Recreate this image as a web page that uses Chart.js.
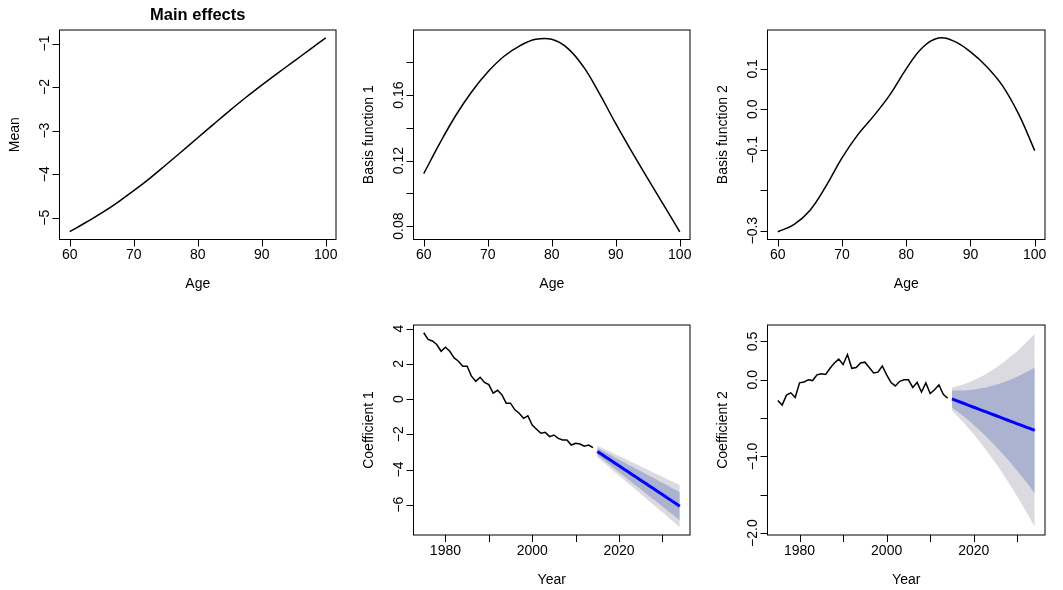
<!DOCTYPE html>
<html>
<head>
<meta charset="utf-8">
<script src="https://cdn.jsdelivr.net/npm/chart.js@4.4.1/dist/chart.umd.min.js"></script>
<style>
  html, body { margin: 0; padding: 0; background: #fff; }
  #wrap { position: relative; width: 1063px; height: 590px; }
  canvas { position: absolute; left: 0; top: 0; }
</style>
</head>
<body>
<div id="wrap">
  <canvas id="c1" width="1063" height="590"></canvas>
  <canvas id="c2" width="1063" height="590"></canvas>
  <canvas id="c3" width="1063" height="590"></canvas>
  <canvas id="c4" width="1063" height="590"></canvas>
  <canvas id="c5" width="1063" height="590"></canvas>
</div>
<script>
// ages for the main effect and basis functions
const ages = [60, 62.5, 65, 67.5, 70, 72.5, 75, 77.5, 80, 82.5, 85, 87.5, 90, 92.5, 95, 97.5, 100];
const meanEffect = [-5.32, -5.11, -4.89, -4.645, -4.38, -4.095, -3.79, -3.48, -3.165, -2.85, -2.54, -2.24, -1.955, -1.68, -1.41, -1.14, -0.87];
const basis1 = [0.112, 0.1305, 0.1475, 0.162, 0.174, 0.1835, 0.190, 0.194, 0.194, 0.1885, 0.177, 0.1605, 0.1425, 0.1255, 0.109, 0.0928, 0.0765];
const basis2 = [-0.3025, -0.285, -0.250, -0.190, -0.120, -0.062, -0.015, 0.037, 0.100, 0.152, 0.176, 0.168, 0.142, 0.106, 0.058, -0.012, -0.102];

// fitted coefficients
const years = [1975, 1976, 1977, 1978, 1979, 1980, 1981, 1982, 1983, 1984, 1985, 1986, 1987, 1988, 1989,
  1990, 1991, 1992, 1993, 1994, 1995, 1996, 1997, 1998, 1999, 2000, 2001, 2002, 2003, 2004,
  2005, 2006, 2007, 2008, 2009, 2010, 2011, 2012, 2013, 2014];
const coef1 = [3.77, 3.39, 3.30, 3.10, 2.72, 2.95, 2.72, 2.34, 2.15, 1.87, 1.87, 1.30, 1.01, 1.24, 0.95,
  0.82, 0.34, 0.50, 0.25, -0.23, -0.23, -0.61, -0.80, -1.09, -0.95, -1.47, -1.71, -1.94, -1.89, -2.13,
  -2.04, -2.23, -2.32, -2.32, -2.61, -2.51, -2.55, -2.67, -2.61, -2.76];
const coef2 = [-0.27, -0.33, -0.20, -0.17, -0.23, -0.04, -0.03, 0.00, -0.01, 0.065, 0.08, 0.07, 0.15, 0.22, 0.27,
  0.20, 0.33, 0.15, 0.16, 0.22, 0.23, 0.16, 0.09, 0.10, 0.18, 0.065, -0.035, -0.08, -0.02, 0.00,
  0.00, -0.10, -0.035, -0.16, -0.04, -0.18, -0.13, -0.065, -0.19, -0.24];

// forecasts with 80% and 95% intervals
const fcYears = [2015, 2016, 2017, 2018, 2019, 2020, 2021, 2022, 2023, 2024,
  2025, 2026, 2027, 2028, 2029, 2030, 2031, 2032, 2033, 2034];
const coef1Fc = [-2.970, -3.134, -3.297, -3.461, -3.625, -3.788, -3.952, -4.116, -4.279, -4.443,
  -4.607, -4.771, -4.934, -5.098, -5.262, -5.425, -5.589, -5.753, -5.916, -6.080];
const coef1Lo80 = [-3.170, -3.366, -3.560, -3.756, -3.951, -4.146, -4.341, -4.537, -4.732, -4.927,
  -5.123, -5.318, -5.513, -5.709, -5.904, -6.099, -6.294, -6.490, -6.684, -6.880];
const coef1Hi80 = [-2.770, -2.902, -3.034, -3.166, -3.299, -3.430, -3.563, -3.695, -3.826, -3.959,
  -4.091, -4.224, -4.355, -4.487, -4.620, -4.751, -4.884, -5.016, -5.148, -5.280];
const coef1Lo95 = [-3.300, -3.509, -3.718, -3.927, -4.136, -4.344, -4.554, -4.763, -4.971, -5.180,
  -5.390, -5.599, -5.807, -6.016, -6.226, -6.434, -6.643, -6.852, -7.061, -7.270];
const coef1Hi95 = [-2.640, -2.759, -2.876, -2.995, -3.114, -3.232, -3.350, -3.469, -3.587, -3.706,
  -3.824, -3.943, -4.061, -4.180, -4.298, -4.416, -4.535, -4.654, -4.771, -4.890];
const coef2Fc = [-0.250, -0.272, -0.293, -0.315, -0.336, -0.358, -0.379, -0.401, -0.423, -0.444,
  -0.466, -0.487, -0.509, -0.531, -0.552, -0.574, -0.595, -0.617, -0.638, -0.660];
const coef2Lo80 = [-0.360, -0.403, -0.446, -0.492, -0.539, -0.589, -0.641, -0.695, -0.750, -0.806,
  -0.866, -0.926, -0.989, -1.054, -1.120, -1.189, -1.259, -1.331, -1.405, -1.482];
const coef2Hi80 = [-0.140, -0.141, -0.140, -0.138, -0.133, -0.127, -0.117, -0.107, -0.096, -0.082,
  -0.066, -0.048, -0.029, -0.008, 0.016, 0.041, 0.069, 0.097, 0.129, 0.162];
const coef2Lo95 = [-0.400, -0.458, -0.517, -0.579, -0.644, -0.711, -0.781, -0.853, -0.929, -1.006,
  -1.086, -1.168, -1.254, -1.342, -1.431, -1.524, -1.619, -1.717, -1.817, -1.920];
const coef2Hi95 = [-0.100, -0.086, -0.069, -0.051, -0.028, -0.005, 0.023, 0.051, 0.083, 0.118,
  0.154, 0.194, 0.236, 0.280, 0.327, 0.376, 0.429, 0.483, 0.541, 0.600];

// axis ticks (R draws some ticks without a label)
const ageTicks = [60, 70, 80, 90, 100];
const yearTicks = [1980, 1990, 2000, 2010, 2020, 2030];
const yearLabels = [1980, 2000, 2020];
const meanTicks = [-5, -4, -3, -2, -1];
const basis1Ticks = [0.08, 0.10, 0.12, 0.14, 0.16, 0.18];
const basis1Labels = [0.08, 0.12, 0.16];
const basis2Ticks = [-0.3, -0.2, -0.1, 0.0, 0.1];
const basis2Labels = [-0.3, -0.1, 0.0, 0.1];
const coef1Ticks = [-6, -4, -2, 0, 2, 4];
const coef2Ticks = [-2.0, -1.5, -1.0, -0.5, 0.0, 0.5];
const coef2Labels = [-2.0, -1.0, 0.0, 0.5];

const FONT = '"Liberation Sans", Arial, Helvetica, sans-serif';
const GREY = '#dadae0';
const SLATE = '#abb3d1';

const pts = (xs, ys) => xs.map((x, i) => ({ x: x, y: ys[i] }));
const fmt = (v, d) => v.toFixed(d).replace('-', '\u2212');

// draws the R style frame, ticks and titles around the plot region
function rAxes(cfg) {
  return {
    id: 'rAxes',
    afterDraw(chart) {
      const ctx = chart.ctx;
      const a = chart.chartArea;
      const xs = chart.scales.x, ys = chart.scales.y;
      ctx.save();
      ctx.strokeStyle = '#000';
      ctx.fillStyle = '#000';
      ctx.lineWidth = 1;
      ctx.strokeRect(a.left, a.top, a.right - a.left, a.bottom - a.top);

      ctx.beginPath();
      cfg.xTicks.forEach(v => {
        const px = Math.round(xs.getPixelForValue(v)) + 0.5;
        ctx.moveTo(px, a.bottom);
        ctx.lineTo(px, a.bottom + 7);
      });
      cfg.yTicks.forEach(v => {
        const py = Math.round(ys.getPixelForValue(v)) + 0.5;
        ctx.moveTo(a.left, py);
        ctx.lineTo(a.left - 7, py);
      });
      ctx.stroke();

      ctx.font = '14px ' + FONT;
      ctx.textAlign = 'center';
      ctx.textBaseline = 'middle';
      cfg.xLabels.forEach(v => {
        ctx.fillText(fmt(v, cfg.xDec), xs.getPixelForValue(v), a.bottom + 16);
      });
      cfg.yLabels.forEach(v => {
        ctx.save();
        ctx.translate(a.left - 14, ys.getPixelForValue(v));
        ctx.rotate(-Math.PI / 2);
        ctx.fillText(fmt(v, cfg.yDec), 0, 0);
        ctx.restore();
      });

      ctx.fillText(cfg.xTitle, (a.left + a.right) / 2, a.bottom + 45);
      ctx.save();
      ctx.translate(a.left - 44, (a.top + a.bottom) / 2);
      ctx.rotate(-Math.PI / 2);
      ctx.fillText(cfg.yTitle, 0, 0);
      ctx.restore();

      if (cfg.main) {
        ctx.font = 'bold 16.5px ' + FONT;
        ctx.fillText(cfg.main, (a.left + a.right) / 2, 15);
      }
      ctx.restore();
    }
  };
}

function makePanel(id, box, xRange, yRange, datasets, axes) {
  new Chart(document.getElementById(id), {
    type: 'line',
    data: { datasets: datasets },
    options: {
      responsive: false,
      animation: false,
      layout: { padding: { left: box.l, top: box.t, right: 1063 - box.r, bottom: 590 - box.b } },
      scales: {
        x: { type: 'linear', display: false, min: xRange[0], max: xRange[1] },
        y: { type: 'linear', display: false, min: yRange[0], max: yRange[1] }
      },
      plugins: { legend: { display: false }, tooltip: { enabled: false } },
      elements: { point: { radius: 0 } }
    },
    plugins: [rAxes(axes)]
  });
}

function curve(xs, ys, smooth) {
  return {
    data: pts(xs, ys), borderColor: '#000', borderWidth: 1.5, fill: false, order: 0,
    tension: smooth ? 0.4 : 0
  };
}

function band(lo, hi, color, order) {
  return [
    { data: pts(fcYears, lo), borderWidth: 0, borderColor: 'rgba(0,0,0,0)', fill: false, order: order, tension: 0.3 },
    { data: pts(fcYears, hi), borderWidth: 0, borderColor: 'rgba(0,0,0,0)', backgroundColor: color, fill: '-1', order: order, tension: 0.3 }
  ];
}

function forecastSets(hist, fc, lo80, hi80, lo95, hi95) {
  return [
    curve(years, hist, false),
    { data: pts(fcYears, fc), borderColor: '#0000ff', borderWidth: 3, fill: false, order: 0 },
    ...band(lo95, hi95, GREY, 2),
    ...band(lo80, hi80, SLATE, 1)
  ];
}

const ageRange = [58.4, 101.6];
const yearRange = [1972.64, 2036.36];

makePanel('c1', { l: 59.5, r: 336, t: 30, b: 239.5 }, ageRange, [-5.5, -0.69],
  [curve(ages, meanEffect, true)],
  { xTicks: ageTicks, xLabels: ageTicks, xDec: 0, yTicks: meanTicks, yLabels: meanTicks, yDec: 0,
    xTitle: 'Age', yTitle: 'Mean', main: 'Main effects' });

makePanel('c2', { l: 413.5, r: 690, t: 30, b: 239.5 }, ageRange, [0.0718, 0.1997],
  [curve(ages, basis1, true)],
  { xTicks: ageTicks, xLabels: ageTicks, xDec: 0, yTicks: basis1Ticks, yLabels: basis1Labels, yDec: 2,
    xTitle: 'Age', yTitle: 'Basis function 1' });

makePanel('c3', { l: 767.5, r: 1045, t: 30, b: 239.5 }, ageRange, [-0.3217, 0.196],
  [curve(ages, basis2, true)],
  { xTicks: ageTicks, xLabels: ageTicks, xDec: 0, yTicks: basis2Ticks, yLabels: basis2Labels, yDec: 1,
    xTitle: 'Age', yTitle: 'Basis function 2' });

makePanel('c4', { l: 413.5, r: 690, t: 325, b: 535 }, yearRange, [-7.72, 4.21],
  forecastSets(coef1, coef1Fc, coef1Lo80, coef1Hi80, coef1Lo95, coef1Hi95),
  { xTicks: yearTicks, xLabels: yearLabels, xDec: 0, yTicks: coef1Ticks, yLabels: coef1Ticks, yDec: 0,
    xTitle: 'Year', yTitle: 'Coefficient 1' });

makePanel('c5', { l: 767.5, r: 1045, t: 325, b: 535 }, yearRange, [-2.025, 0.715],
  forecastSets(coef2, coef2Fc, coef2Lo80, coef2Hi80, coef2Lo95, coef2Hi95),
  { xTicks: yearTicks, xLabels: yearLabels, xDec: 0, yTicks: coef2Ticks, yLabels: coef2Labels, yDec: 1,
    xTitle: 'Year', yTitle: 'Coefficient 2' });
</script>
</body>
</html>
